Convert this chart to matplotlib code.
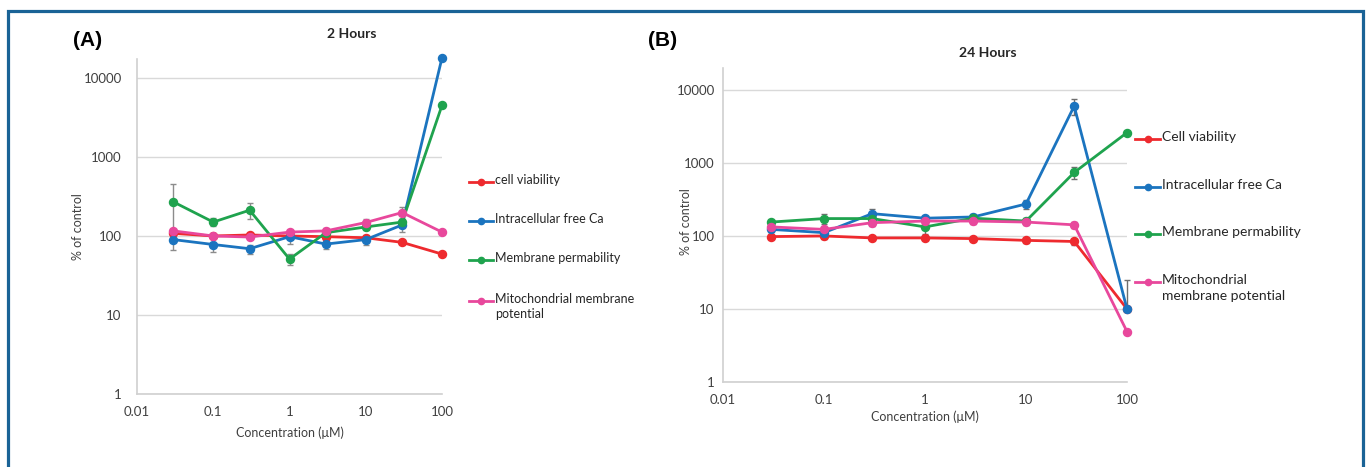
import numpy as np
import matplotlib
matplotlib.use("Agg")
import matplotlib.pyplot as plt
from matplotlib.lines import Line2D

plt.rcParams['font.family'] = ['Lato', 'DejaVu Sans']

conc = [0.03, 0.1, 0.3, 1, 3, 10, 30, 100]
x_ticks = [0.01, 0.1, 1, 10, 100]
x_labels = ['0.01', '0.1', '1', '10', '100']
y_ticks = [1, 10, 100, 1000, 10000]
y_labels = ['1', '10', '100', '1000', '10000']

names_a = ['cell viability', 'Intracellular free Ca', 'Membrane permability',
           'Mitochondrial membrane\npotential']
names_b = ['Cell viability', 'Intracellular free Ca', 'Membrane permability',
           'Mitochondrial\nmembrane potential']
colors = ['#ee2a2e', '#1b74bf', '#1fa34e', '#e8489c']

# 2 hours
via_2h = [108, 100, 103, 100, 98, 95, 83, 59]
ca_2h = [90, 78, 69, 98, 79, 90, 138, 18000]
mem_2h = [270, 150, 212, 51, 110, 130, 150, 4500]
mito_2h = [116, 100, 97, 112, 116, 148, 198, 112]
via_2h_err = [5, 5, 5, 5, 5, 5, 4, 0]
ca_2h_err = [24, 15, 9, 18, 11, 14, 25, 0]
mem_2h_err = [180, 18, 50, 8, 10, 12, 15, 0]
mito_2h_err = [8, 5, 5, 8, 10, 15, 35, 0]

# 24 hours
via_24h = [98, 100, 94, 94, 92, 87, 84, 10]
ca_24h = [123, 111, 202, 175, 182, 274, 6000, 10]
mem_24h = [155, 173, 173, 133, 175, 160, 740, 2600]
mito_24h = [133, 123, 152, 160, 160, 155, 142, 4.9]
via_24h_err = [6, 8, 6, 6, 5, 8, 8, 0]
ca_24h_err = [10, 12, 35, 10, 15, 40, 1500, 15]
mem_24h_err = [8, 25, 15, 25, 20, 15, 130, 0]
mito_24h_err = [8, 10, 15, 10, 12, 12, 12, 0]

W, H = 1370, 467
fig = plt.figure(figsize=(W / 100, H / 100), dpi=100)


def px_axes(l, t, r, b):
    return fig.add_axes([l / W, 1 - b / H, (r - l) / W, (b - t) / H])


def draw_panel(ax, series, errs, ytop, ypad, ecol):
    for vals, err, c in zip(series, errs, colors):
        v = np.array(vals, dtype=float)
        e = np.array(err, dtype=float)
        # a lower bar that would cross zero cannot be shown on a log axis
        lo = np.where(v - e > 0, e, 0)
        cont = ax.errorbar(conc, v, yerr=[lo, e], color=c, lw=2, marker='o', ms=5.8,
                           ecolor=ecol, elinewidth=1, capsize=2.5, capthick=1)
        for art in cont.get_children():
            art.set_clip_on(False)
    ax.set_xscale('log')
    ax.set_yscale('log')
    ax.set_xlim(0.01, 100)
    ax.set_ylim(1, ytop)
    ax.set_xticks(x_ticks)
    ax.set_xticklabels(x_labels)
    ax.set_yticks(y_ticks)
    ax.set_yticklabels(y_labels)
    ax.minorticks_off()
    ax.tick_params(length=0, labelsize=9.5, colors='#404040')
    ax.tick_params(axis='x', pad=9)
    ax.tick_params(axis='y', pad=ypad)
    ax.grid(axis='y', color='#d9d9d9', lw=1)
    ax.set_axisbelow(True)
    for s in ['top', 'right']:
        ax.spines[s].set_visible(False)
    for s in ['left', 'bottom']:
        ax.spines[s].set_color('#d0d0d0')
        ax.spines[s].set_linewidth(1.2)


def draw_legend(names, x0, x1, xt, ys, fs):
    for name, c, y in zip(names, colors, ys):
        fy = 1 - y / H
        fig.add_artist(Line2D([x0 / W, x1 / W], [fy, fy], color=c, lw=2,
                              transform=fig.transFigure))
        fig.add_artist(Line2D([(x0 + x1) / 2 / W], [fy], color=c, marker='o', ms=4.5,
                              transform=fig.transFigure))
        fig.text(xt / W, 1 - (y - 8) / H, name, fontsize=fs, va='top', ha='left',
                 color='#262626', linespacing=1.35)


ax_a = px_axes(137, 59, 442, 394)
draw_panel(ax_a, [via_2h, ca_2h, mem_2h, mito_2h],
           [via_2h_err, ca_2h_err, mem_2h_err, mito_2h_err], 10 ** 4.24, 11, '#8c8c8c')
ax_b = px_axes(723, 68, 1127, 382)
draw_panel(ax_b, [via_24h, ca_24h, mem_24h, mito_24h],
           [via_24h_err, ca_24h_err, mem_24h_err, mito_24h_err], 10 ** 4.3, 6, '#6e6e6e')

draw_legend(names_a, 469, 493, 495, [182, 221, 260, 301], 9)
draw_legend(names_b, 1135, 1160, 1162, [139, 187, 234, 282], 10)

# titles, panel letters, axis labels
fig.text(352 / W, 1 - 34 / H, '2 Hours', fontsize=10, fontweight='bold',
         ha='center', va='center', color='#262626')
fig.text(988 / W, 1 - 53 / H, '24 Hours', fontsize=10, fontweight='bold',
         ha='center', va='center', color='#262626')
fig.text(73 / W, 1 - 40 / H, '(A)', fontsize=15, fontweight='bold',
         ha='left', va='center', family='Liberation Sans')
fig.text(648 / W, 1 - 40 / H, '(B)', fontsize=15, fontweight='bold',
         ha='left', va='center', family='Liberation Sans')
fig.text(78 / W, 1 - 227 / H, '% of control', fontsize=9, rotation=90,
         ha='center', va='center', color='#404040')
fig.text(686 / W, 1 - 222 / H, '% of control', fontsize=9, rotation=90,
         ha='center', va='center', color='#404040')
fig.text(290 / W, 1 - 433 / H, 'Concentration (\u03bcM)', fontsize=9,
         ha='center', va='center', color='#404040')
fig.text(925 / W, 1 - 417 / H, 'Concentration (\u03bcM)', fontsize=9,
         ha='center', va='center', color='#404040')

# frame round the figure (no bottom edge)
xl, xr, yt = 7.5 / W, 1362.5 / W, 1 - 10.5 / H
fig.add_artist(Line2D([xl, xl, xr, xr], [0, yt, yt, 0], color='#1a6396', lw=2.3,
                      transform=fig.transFigure, solid_joinstyle='miter'))

fig.savefig('out.png', dpi=100)
